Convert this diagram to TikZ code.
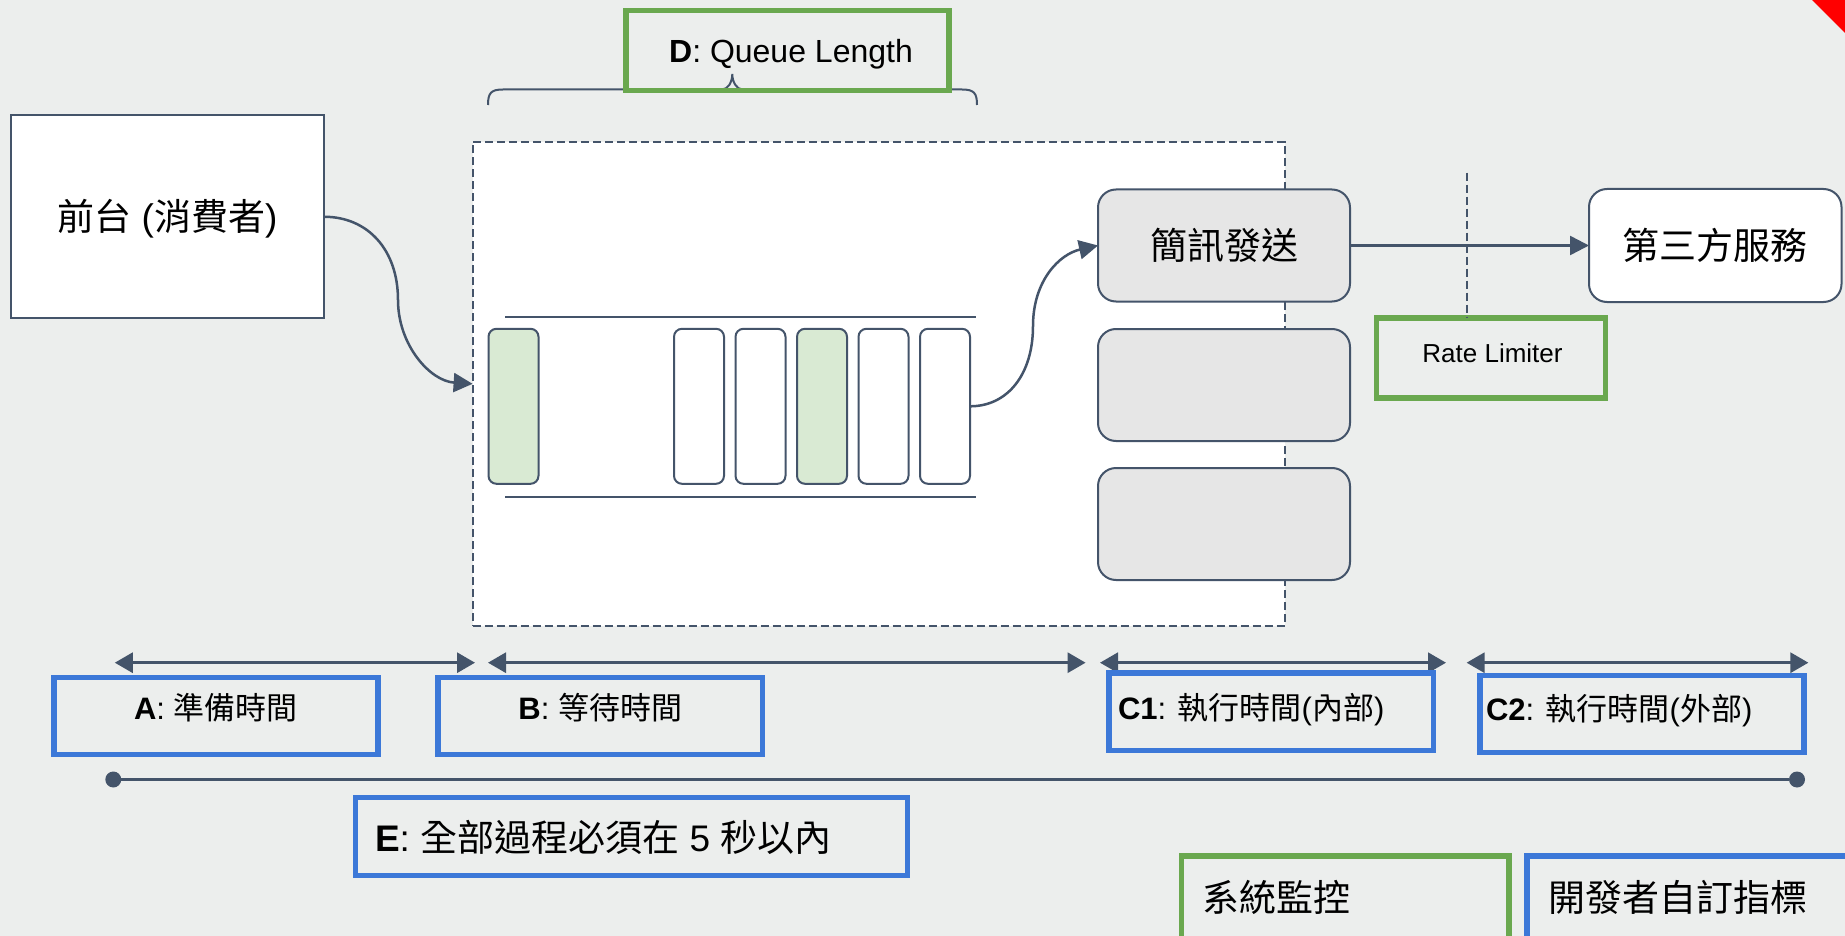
\documentclass[tikz,border=0pt]{standalone}
\usepackage{fontspec}
\setmainfont{Liberation Sans}
\newfontfamily\cjkfont{Noto Sans CJK TC}
\newcommand{\zh}[1]{{\cjkfont #1}}
\usetikzlibrary{arrows.meta}
\definecolor{bg}{HTML}{ECEEED}
\definecolor{slate}{HTML}{44546A}
\definecolor{gblue}{HTML}{3C78D8}
\definecolor{ggreen}{HTML}{6AA84F}
\definecolor{lgreen}{HTML}{D9EAD3}
\definecolor{lgray}{HTML}{E6E6E6}
\begin{document}
\begin{tikzpicture}[x=1pt,y=-1pt,
  every node/.style={inner sep=0pt, outer sep=0pt},
  plainbox/.style={draw=slate, line width=2pt, fill=white},
  cellbox/.style={draw=slate, line width=2pt, rounded corners=8pt, minimum width=50pt, minimum height=155pt, fill=white},
  graybox/.style={draw=slate, line width=2pt, rounded corners=18pt, fill=lgray, minimum width=252pt, minimum height=112pt},
  bluebox/.style={draw=gblue, line width=5.5pt},
  greenbox/.style={draw=ggreen, line width=5.5pt},
  conn/.style={draw=slate, line width=2.5pt, -{Triangle[length=19pt,width=19pt]}},
  spanarrow/.style={draw=slate, line width=3pt, {Triangle[length=18pt,width=20pt]}-{Triangle[length=18pt,width=20pt]}},
  dashline/.style={draw=slate, line width=2pt, dash pattern=on 8pt off 4pt},
  fbig/.style={font=\fontsize{37pt}{44pt}\selectfont},
  fmid/.style={font=\fontsize{31pt}{38pt}\selectfont},
  fd/.style={font=\fontsize{32pt}{38pt}\selectfont},
  fsmall/.style={font=\fontsize{26pt}{30pt}\selectfont},
]
\useasboundingbox (0,0) rectangle (1845,936);
\fill[bg] (0,0) rectangle (1845,936);
\begin{scope}
\clip (0,0) rectangle (1845,936);

% red corner
\fill[red] (1812,0) -- (1845,0) -- (1845,33) -- cycle;

% brace
\draw[slate, line width=2pt] (488,105) .. controls (488,93) and (491,89.5) .. (503,89.5)
  -- (722,89.5) .. controls (728,89.5) and (732.3,82) .. (732.3,74)
  .. controls (732.3,82) and (736.6,89.5) .. (742.6,89.5)
  -- (962,89.5) .. controls (974,89.5) and (977,93) .. (977,105);

% D box
\node[greenbox, minimum width=323pt, minimum height=80pt] (dbox) at (787.5,50.4) {};
\node[fd] (dtext) at (791,54) {{\bfseries D}: Queue Length};

% frontend
\node[plainbox, minimum width=313pt, minimum height=202.5pt] (front) at (167.4,216.75) {};
\node[fbig] (fronttext) at (167.4,219) {\zh{前台} (\zh{消費者})};

% container
\node[draw=slate, line width=2pt, dash pattern=on 8pt off 4pt, fill=white, minimum width=812pt, minimum height=484.3pt] (queue) at (878.6,383.85) {};

% queue rails
\draw[slate, line width=2pt] (505,317.3) -- (976,317.3);
\draw[slate, line width=2pt] (505,496.7) -- (976,496.7);

% cells
\node[cellbox, fill=lgreen] (q1) at (513.5,406.3) {};
\node[cellbox] (q2) at (699,406.3) {};
\node[cellbox] (q3) at (760.5,406.3) {};
\node[cellbox, fill=lgreen] (q4) at (822,406.3) {};
\node[cellbox] (q5) at (883.5,406.3) {};
\node[cellbox] (q6) at (945,406.3) {};

% workers
\node[graybox, fbig] (sms) at (1224,245.5) {\zh{簡訊發送}};
\node[graybox] (w2) at (1224,385) {};
\node[graybox] (w3) at (1224,524) {};

% third party
\node[draw=slate, line width=2pt, rounded corners=18pt, fill=white, minimum width=252.5pt, minimum height=113pt, fbig] (third) at (1715.25,245.5) {\zh{第三方服務}};

% rate limiter
\node[greenbox, minimum width=229pt, minimum height=80pt] (rl) at (1491.2,358.2) {};
\node[fsmall] (rltext) at (1492.5,353) {Rate Limiter};
\coordinate (rltop) at (1466.6,172.7);
\draw[dashline] (rltop) -- (rltop |- rl.north);

% connectors
\draw[conn] (front.east) .. controls (368,216.75) and (398,250) .. (398,300)
  .. controls (398,345) and (430,381) .. (queue.west);
\draw[conn] (q6.east) .. controls (1008,406.3) and (1033,374) .. (1033,326)
  .. controls (1033,280) and (1060,254) .. (sms.west);
\draw[conn] (sms.east) -- (third.west);

% span arrows
\coordinate (a1) at (114.8,662.7);
\coordinate (a2) at (475,662.7);
\coordinate (b1) at (488,662.7);
\coordinate (b2) at (1085.6,662.7);
\coordinate (c1) at (1100,662.7);
\coordinate (c2) at (1446,662.7);
\coordinate (d1) at (1466.6,662.7);
\coordinate (d2) at (1808.4,662.7);
\draw[spanarrow] (a1) -- (a2);
\draw[spanarrow] (b1) -- (b2);
\draw[spanarrow] (c1) -- (c2);
\draw[spanarrow] (d1) -- (d2);

% time boxes
\node[bluebox, minimum width=323.7pt, minimum height=77pt] (abox) at (215.9,715.8) {};
\node[fmid] (atext) at ([yshift=8pt]abox.center) {{\bfseries A}: \zh{準備時間}};
\node[bluebox, minimum width=324.3pt, minimum height=77pt] (bbox) at (600.2,715.8) {};
\node[fmid] (btext) at ([yshift=8pt]bbox.center) {{\bfseries B}: \zh{等待時間}};
\node[bluebox, minimum width=324.5pt, minimum height=77.3pt] (c1box) at (1271.3,711.7) {};
\node[fmid, anchor=west] (c1text) at (1118,710) {{\bfseries C1}: \zh{執行時間}(\zh{內部})};
\node[bluebox, minimum width=324.2pt, minimum height=77pt] (c2box) at (1641.9,714.2) {};
\node[fmid, anchor=west] (c2text) at (1486,711) {{\bfseries C2}: \zh{執行時間}(\zh{外部})};

% overall line
\node[circle, fill=slate, minimum size=16pt] (e1) at (113.3,779.5) {};
\node[circle, fill=slate, minimum size=16pt] (e2) at (1797,779.5) {};
\draw[slate, line width=3pt] (e1) -- (e2);

\node[bluebox, minimum width=552pt, minimum height=78pt] (ebox) at (631.7,836.3) {};
\node[fbig, anchor=west] (etext) at (375,837.5) {{\bfseries E}: \zh{全部過程必須在} 5 \zh{秒以內}};

% legend
\node[greenbox, minimum width=327.5pt, minimum height=94pt] (leg1) at (1345.25,903) {};
\node[fbig, anchor=west] (leg1text) at (1202.4,897.5) {\zh{系統監控}};
\node[bluebox, minimum width=343pt, minimum height=94pt] (leg2) at (1698.5,903) {};
\node[fbig, anchor=west] (leg2text) at (1548,897.5) {\zh{開發者自訂指標}};
\end{scope}
\end{tikzpicture}
\end{document}
